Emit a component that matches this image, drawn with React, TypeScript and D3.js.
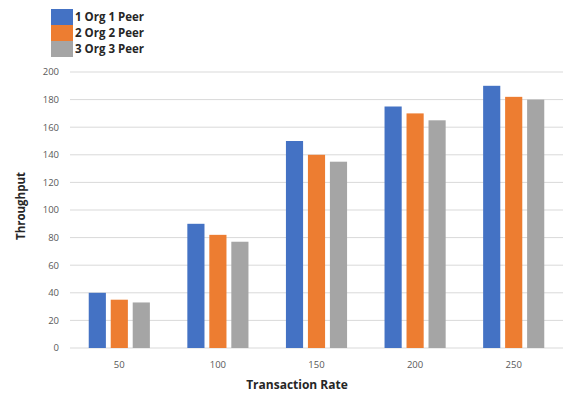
import React from "react";
import * as d3 from "d3";

const categories = ["50", "100", "150", "200", "250"];
const seriesNames = ["1 Org 1 Peer", "2 Org 2 Peer", "3 Org 3 Peer"];
const org1Peer1 = [40, 90, 150, 175, 190];
const org2Peer2 = [35, 82, 140, 170, 182];
const org3Peer3 = [33, 77, 135, 165, 180];
const yTicks = [0, 20, 40, 60, 80, 100, 120, 140, 160, 180, 200];
const colors = ["#4472C4", "#ED7D31", "#A5A5A5"];

const W = 565;
const H = 397;
const plot = { left: 70, right: 563, top: 72, bottom: 348 };

export default function App() {
  const series = [org1Peer1, org2Peer2, org3Peer3];
  const x = d3
    .scaleBand<string>()
    .domain(categories)
    .range([plot.left, plot.right])
    .paddingInner(0.38)
    .paddingOuter(0.19);
  const inner = d3
    .scaleBand<number>()
    .domain([0, 1, 2])
    .range([0, x.bandwidth()])
    .paddingInner(0.22);
  const y = d3.scaleLinear().domain([0, 200]).range([plot.bottom, plot.top]);
  const font = "'Open Sans', sans-serif";

  return (
    <svg
      width={W}
      height={H}
      style={{ position: "absolute", left: 0, top: 0, background: "#fff" }}
      fontFamily={font}
    >
      {yTicks.map((t) => (
        <g key={t}>
          <line
            x1={plot.left}
            x2={plot.right}
            y1={y(t)}
            y2={y(t)}
            stroke="#d9d9d9"
            strokeWidth={1}
          />
          <text
            x={59}
            y={y(t)}
            dy="0.35em"
            textAnchor="end"
            fontSize={9.5}
            fill="#595959"
          >
            {t}
          </text>
        </g>
      ))}
      {categories.map((c, i) => (
        <g key={c}>
          {series.map((s, k) => (
            <rect
              key={k}
              x={(x(c) as number) + (inner(k) as number)}
              y={y(s[i])}
              width={inner.bandwidth()}
              height={y(0) - y(s[i])}
              fill={colors[k]}
            />
          ))}
          <text
            x={(x(c) as number) + x.bandwidth() / 2}
            y={368}
            textAnchor="middle"
            fontSize={9.5}
            fill="#595959"
          >
            {c}
          </text>
        </g>
      ))}
      <text
        x={297}
        y={389}
        textAnchor="middle"
        fontSize={12}
        fontWeight="bold"
        fill="#262626"
      >
        Transaction Rate
      </text>
      <text
        transform={`translate(25,${206}) rotate(-90)`}
        textAnchor="middle"
        fontSize={11.5}
        fontWeight="bold"
        fill="#262626"
      >
        Throughput
      </text>
      {seriesNames.map((n, k) => (
        <g key={n}>
          <rect x={51} y={9 + k * 16} width={22} height={16} fill={colors[k]} />
          <text
            x={75}
            y={17 + k * 16}
            dy="0.35em"
            fontSize={11.5}
            fontWeight="bold"
            fill="#262626"
          >
            {n}
          </text>
        </g>
      ))}
    </svg>
  );
}
